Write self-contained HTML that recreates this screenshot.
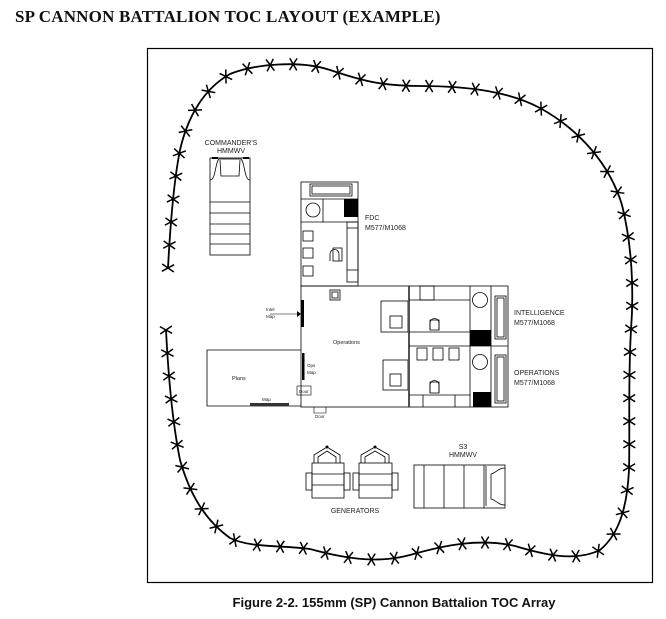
<!DOCTYPE html>
<html><head><meta charset="utf-8"><style>
html,body{margin:0;padding:0;background:#fff;}
body{width:666px;height:619px;position:relative;overflow:hidden;}
.t{position:absolute;left:15px;top:7px;font:bold 17px "Liberation Serif",serif;letter-spacing:0.2px;color:#111;white-space:nowrap;}
.c{position:absolute;left:0;width:666px;top:595px;text-align:center;padding-left:122px;box-sizing:border-box;font:bold 13px "Liberation Sans",sans-serif;color:#111;}
svg{position:absolute;left:0;top:0;}
svg text{font-family:"Liberation Sans",sans-serif;fill:#222;}
</style></head><body>
<div class="t">SP CANNON BATTALION TOC LAYOUT (EXAMPLE)</div>
<div class="c">Figure 2-2. 155mm (SP) Cannon Battalion TOC Array</div>
<svg width="666" height="619" viewBox="0 0 666 619" xmlns="http://www.w3.org/2000/svg">
<rect x="147.5" y="48.5" width="505" height="534" fill="none" stroke="#000" stroke-width="1.2"/>
<path id="wire" fill="none" stroke="#000" stroke-width="1.8" d="M168,268 C170,230 174,180 180,150 C188,115 205,88 230,74 C255,64 300,60 330,70 C360,80 380,86 420,86 C470,86 510,92 540,108 C580,130 610,165 622,205 C632,245 634,290 631,330 C628,380 630,430 629,470 C627,510 618,535 600,550 C575,562 545,555 515,546 C480,538 445,545 410,555 C380,563 350,560 310,549 C280,545 250,548 230,538 C205,520 190,495 180,460 C172,420 168,370 166,330"/>
<g id="xs" stroke="#000" stroke-width="1.5" fill="none"></g>

<!-- Commander's HMMWV -->
<text x="231" y="145" font-size="7" text-anchor="middle">COMMANDER'S</text>
<text x="231" y="153" font-size="7" text-anchor="middle">HMMWV</text>
<g stroke="#000" stroke-width="0.8" fill="none">
<rect x="210" y="158" width="40" height="97"/>
<path d="M210,180 C216,180 215,162 219,159 L241,159 C245,162 244,180 250,180"/>
<path d="M220,160 L221,176 L239,176 L240,160"/>
<line x1="210" y1="202" x2="250" y2="202"/><line x1="210" y1="213" x2="250" y2="213"/>
<line x1="210" y1="224" x2="250" y2="224"/><line x1="210" y1="234" x2="250" y2="234"/>
<line x1="210" y1="244" x2="250" y2="244"/>
</g>
<rect x="212" y="157" width="6" height="2" fill="#000"/><rect x="243" y="157" width="6" height="2" fill="#000"/>

<!-- FDC -->
<g stroke="#000" stroke-width="0.8" fill="none">
<rect x="301" y="182" width="57" height="104"/>
<rect x="310" y="184" width="42" height="12"/><rect x="312" y="186" width="38" height="8"/>
<line x1="301" y1="199" x2="358" y2="199"/>
<line x1="301" y1="222" x2="358" y2="222"/>
<line x1="323" y1="199" x2="323" y2="222"/>
<circle cx="313" cy="210" r="7"/>
<rect x="303" y="231" width="10" height="10"/><rect x="303" y="248" width="10" height="10"/><rect x="303" y="266" width="10" height="10"/>
<path d="M330,261 L330,254 A4.5,4.5 0 0 1 339,254 L339,261"/><rect x="333" y="248" width="9" height="13"/>
<rect x="347" y="222" width="11" height="60"/><line x1="347" y1="228" x2="358" y2="228"/><line x1="347" y1="270" x2="358" y2="270"/>
</g>
<rect x="344" y="199" width="14" height="18" fill="#000"/>
<text x="365" y="220" font-size="7">FDC</text>
<text x="365" y="230" font-size="7">M577/M1068</text>

<!-- Operations area -->
<g stroke="#000" stroke-width="0.8" fill="none">
<rect x="301" y="286" width="108" height="121"/>
<rect x="330" y="290" width="10" height="10"/><rect x="332" y="292" width="6" height="6"/>
<rect x="381" y="301" width="27" height="31"/><rect x="390" y="316" width="12" height="12"/>
<rect x="383" y="360" width="25" height="30"/><rect x="390" y="374" width="11" height="12"/>
<line x1="270" y1="314" x2="301" y2="314" stroke-width="0.6"/>
<rect x="297" y="386" width="14" height="9" stroke-width="0.6"/>
<path d="M314,407 L314,413 L326,413 L326,407" stroke-width="0.6"/>
</g>
<rect x="301" y="300" width="3" height="27" fill="#000"/>
<polygon points="301,314 297,311 297,317" fill="#000"/>
<rect x="302" y="353" width="2.5" height="27" fill="#000"/>
<rect x="408" y="286" width="2" height="121" fill="#888"/>
<text x="333" y="344" font-size="5.5">Operations</text>
<text x="266" y="311" font-size="4.5">Intel</text><text x="266" y="318" font-size="4.5">Map</text>
<text x="307" y="367" font-size="4.5">Ops</text><text x="307" y="374" font-size="4.5">Map</text>
<text x="299" y="393" font-size="4.5">Door</text>
<text x="315" y="418" font-size="4.5">Door</text>

<!-- Plans -->
<g stroke="#000" stroke-width="0.8" fill="none"><path d="M301,350 L207,350 L207,406 L301,406"/></g>
<rect x="250" y="403" width="39" height="3" fill="#333"/>
<text x="232" y="380" font-size="5.5">Plans</text>
<text x="262" y="401" font-size="4.5">Map</text>

<!-- Intel / Ops vehicles -->
<g stroke="#000" stroke-width="0.8" fill="none">
<rect x="409" y="286" width="99" height="121"/>
<line x1="409" y1="346" x2="508" y2="346"/>
<line x1="470" y1="286" x2="470" y2="407"/><line x1="491" y1="286" x2="491" y2="407"/>
<line x1="409" y1="300" x2="470" y2="300"/><line x1="409" y1="332" x2="470" y2="332"/>
<rect x="420" y="286" width="14" height="14"/>
<circle cx="480" cy="300" r="7.5"/><circle cx="480" cy="362" r="7.5"/>
<rect x="495" y="296" width="11" height="43"/><rect x="497" y="298" width="7" height="39"/>
<rect x="495" y="355" width="11" height="48"/><rect x="497" y="357" width="7" height="44"/>
<path d="M430,330 L430,323 A4.5,4.5 0 0 1 439,323 L439,330"/><rect x="430" y="320" width="9" height="10"/>
<path d="M430,393 L430,385 A4.5,4.5 0 0 1 439,385 L439,393"/><rect x="430" y="382" width="9" height="11"/>
<rect x="417" y="348" width="10" height="12"/><rect x="433" y="348" width="10" height="12"/><rect x="449" y="348" width="10" height="12"/>
<line x1="409" y1="395" x2="470" y2="395"/><line x1="423" y1="395" x2="423" y2="407"/><line x1="455" y1="395" x2="455" y2="407"/>
</g>
<rect x="470" y="330" width="21" height="16" fill="#000"/>
<rect x="473" y="392" width="18" height="15" fill="#000"/>
<text x="514" y="315" font-size="7">INTELLIGENCE</text><text x="514" y="325" font-size="7">M577/M1068</text>
<text x="514" y="375" font-size="7">OPERATIONS</text><text x="514" y="385" font-size="7">M577/M1068</text>

<!-- Generators -->
<g stroke="#000" stroke-width="0.8" fill="none">
<rect x="312" y="463" width="32" height="35"/><rect x="306" y="473" width="6" height="17"/><rect x="344" y="473" width="6" height="17"/>
<line x1="312" y1="474" x2="344" y2="474"/><line x1="312" y1="485" x2="344" y2="485"/>
<path d="M314,463 L314,455 L327,447 L340,455 L340,463 M318,463 L318,457 L327,451 L336,457 L336,463"/>
<rect x="359" y="463" width="33" height="35"/><rect x="353" y="473" width="6" height="17"/><rect x="392" y="473" width="6" height="17"/>
<line x1="359" y1="474" x2="392" y2="474"/><line x1="359" y1="485" x2="392" y2="485"/>
<path d="M361,463 L361,455 L375,447 L389,455 L389,463 M365,463 L365,457 L375,451 L385,457 L385,463"/>
</g>
<circle cx="327" cy="447" r="1.5" fill="#000"/><circle cx="375" cy="447" r="1.5" fill="#000"/>
<text x="355" y="513" font-size="7" text-anchor="middle">GENERATORS</text>

<!-- S3 HMMWV -->
<g stroke="#000" stroke-width="0.8" fill="none">
<rect x="414" y="465" width="91" height="43"/>
<line x1="424" y1="465" x2="424" y2="508"/><line x1="444" y1="465" x2="444" y2="508"/>
<line x1="464" y1="465" x2="464" y2="508"/><line x1="484" y1="465" x2="484" y2="508"/>
<path d="M486,466 L486,506 M505,468 C498,468 496,473 491,474 L491,499 C496,500 498,505 505,505"/>
</g>
<text x="463" y="449" font-size="7" text-anchor="middle">S3</text>
<text x="463" y="457" font-size="7" text-anchor="middle">HMMWV</text>
</svg>
<script>
(function(){var p=document.getElementById('wire'),g=document.getElementById('xs');
var L=p.getTotalLength(),n=Math.round(L/23);var s=7;
for(var i=0;i<=n;i++){var d=i*L/n,a=p.getPointAtLength(d),b=p.getPointAtLength(Math.min(L,d+1)),c=p.getPointAtLength(Math.max(0,d-1));
var ang=Math.atan2(b.y-c.y,b.x-c.x);
for(var k=-1;k<=1;k+=2){var t=ang+Math.PI/2+k*0.55;
var l=document.createElementNS('http://www.w3.org/2000/svg','line');
l.setAttribute('x1',a.x-Math.cos(t)*s);l.setAttribute('y1',a.y-Math.sin(t)*s);
l.setAttribute('x2',a.x+Math.cos(t)*s);l.setAttribute('y2',a.y+Math.sin(t)*s);g.appendChild(l);}}})();
</script>
</body></html>
